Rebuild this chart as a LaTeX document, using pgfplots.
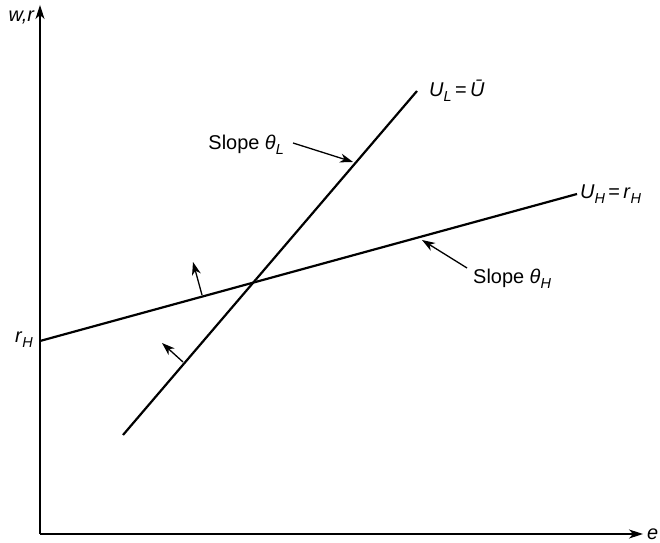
\documentclass[border=0pt]{standalone}
\usepackage{fontspec}
\setmainfont{Liberation Sans}
\usepackage{pgfplots}
\pgfplotsset{compat=1.18}
\usetikzlibrary{arrows.meta}

\newcommand\sub[1]{\raisebox{-0.45ex}{\fontsize{14.5}{14.5}\selectfont\textit{#1}}}
\tikzset{tip/.style={-{Stealth[length=13bp,width=9bp,inset=4bp]}, line width=1.3bp}}

\begin{document}
\begin{tikzpicture}[x=1bp,y=1bp]
\begin{axis}[
  scale only axis,
  width=603bp, height=529bp,
  xmin=0, xmax=603, ymin=0, ymax=529,
  axis lines=left,
  axis line style={line width=1.3bp, -{Stealth[length=14bp,width=9bp,inset=4bp]}},
  xtick=\empty, ytick=\empty,
  clip=false,
  font=\fontsize{20}{22}\selectfont,
]
% indifference line of the low type
\addplot[black, line width=2.2bp] coordinates {(83,99) (377,443)};
% indifference line of the high type
\addplot[black, line width=2.2bp] coordinates {(0,193) (537,340)};

% directions of increasing utility
\draw[tip] (axis cs:162,239) -- (axis cs:153,272);
\draw[tip] (axis cs:143,172) -- (axis cs:122,191);

% slope annotations
\draw[tip] (axis cs:253,391) -- (axis cs:313,372);
\node[anchor=east, inner sep=0pt] at (axis cs:244,389) {Slope \textit{θ}\sub{L}};
\draw[tip] (axis cs:427,266) -- (axis cs:382,294);
\node[anchor=west, inner sep=0pt] at (axis cs:433,255) {Slope \textit{θ}\sub{H}};

% line labels
\node[anchor=base west, inner sep=0pt] at (axis cs:389,437) {\textit{U}\sub{L}\,=\,\textit{Ū}};
\node[anchor=base west, inner sep=0pt] at (axis cs:540,335) {\textit{U}\sub{H}\,=\,\textit{r}\sub{H}};
\node[anchor=base east, inner sep=0pt] at (axis cs:-7,191) {\textit{r}\sub{H}};

% axis labels
\node[anchor=base east, inner sep=0pt] at (axis cs:-5,512) {\textit{w,r}};
\node[anchor=west, inner sep=0pt] at (axis cs:607,0) {\textit{e}};
\end{axis}
\path[use as bounding box] (-40,-9) rectangle (620,534);
\end{tikzpicture}
\end{document}
